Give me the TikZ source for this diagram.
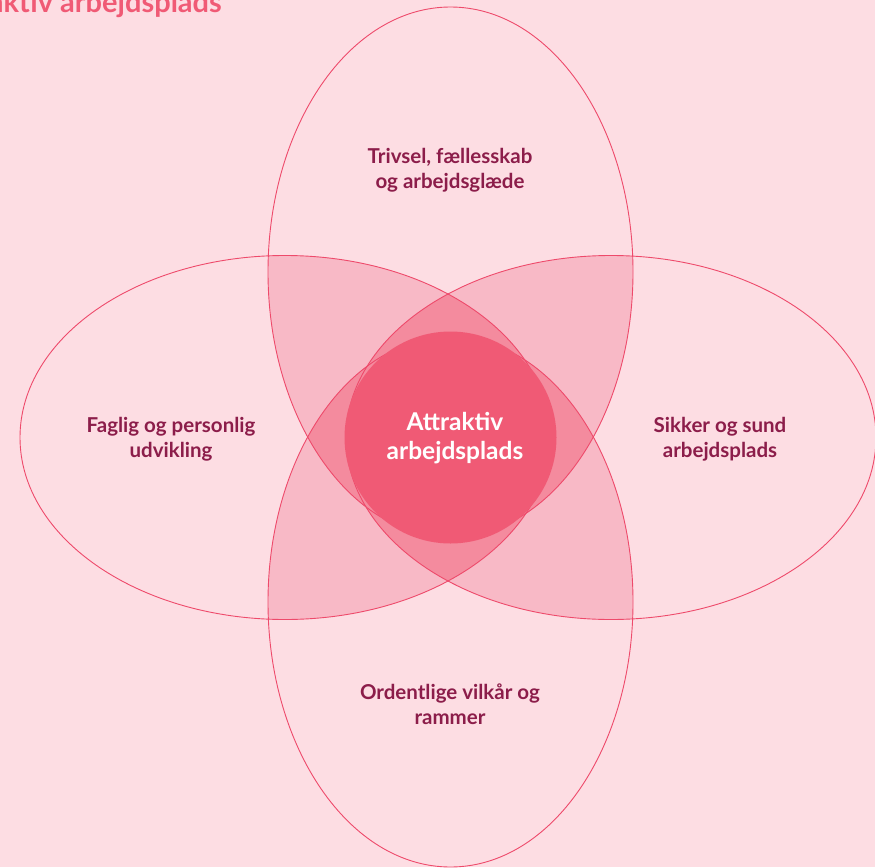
\documentclass[tikz,border=0pt]{standalone}
\usepackage{fontspec}
\setmainfont{Lato}
\definecolor{bg}{HTML}{FDDDE3}
\definecolor{ctwo}{HTML}{F8B9C6}
\definecolor{cthree}{HTML}{F48B9E}
\definecolor{ccirc}{HTML}{F05A75}
\definecolor{cline}{HTML}{EE4A6B}
\definecolor{ctext}{HTML}{8C1D4A}
\definecolor{ctitle}{HTML}{F05A75}
\tikzset{
  outline/.style={draw=cline, line width=0.9pt},
  lbl/.style={text=ctext, font=\fontsize{20.5}{25.5}\selectfont\bfseries, align=center, inner sep=0pt},
  clbl/.style={text=white, font=\fontsize{24.5}{29.5}\selectfont\bfseries, align=center, inner sep=0pt},
}
\def\ET{(450.5,272) ellipse [x radius=182.5pt, y radius=265pt]}
\def\EB{(450.5,602) ellipse [x radius=182.5pt, y radius=265pt]}
\def\EL{(285,437.5) ellipse [x radius=265pt, y radius=182pt]}
\def\ER{(611,437.5) ellipse [x radius=265pt, y radius=182pt]}
\begin{document}
\begin{tikzpicture}[x=1pt,y=-1pt]
\useasboundingbox (0,0) rectangle (875,867);
\fill[bg] (0,0) rectangle (875,867);
\begin{scope}
\clip (0,0) rectangle (875,867);
% pairwise intersections
\begin{scope}\clip \ET; \fill[ctwo] \EL; \fill[ctwo] \ER; \end{scope}
\begin{scope}\clip \EB; \fill[ctwo] \EL; \fill[ctwo] \ER; \end{scope}
\begin{scope}\clip \ET; \fill[ctwo] \EB; \end{scope}
\begin{scope}\clip \EL; \fill[ctwo] \ER; \end{scope}
% triple intersections
\begin{scope}\clip \ET; \clip \EL; \fill[cthree] \ER; \end{scope}
\begin{scope}\clip \EB; \clip \EL; \fill[cthree] \ER; \end{scope}
\begin{scope}\clip \EL; \clip \ET; \fill[cthree] \EB; \end{scope}
\begin{scope}\clip \ER; \clip \ET; \fill[cthree] \EB; \end{scope}
% outlines
\draw[outline] \ET;
\draw[outline] \EB;
\draw[outline] \EL;
\draw[outline] \ER;
% central circle
\fill[ccirc] (450.5,437.5) circle [radius=106pt];
\end{scope}
% title (cut off at the edge)
\node[anchor=base east, inner sep=0pt, text=ctitle, font=\fontsize{29}{34}\selectfont\bfseries] (title) at (222,13) {Attraktiv arbejdsplads};
% labels
\node[lbl] (top) at (450,170) {Trivsel, fællesskab\\og arbejdsglæde};
\node[lbl] (left) at (171,439) {Faglig og personlig\\udvikling};
\node[lbl] (right) at (720,439) {Sikker og sund\\arbejdsplads};
\node[lbl] (bottom) at (450,704) {Ordentlige vilkår og\\rammer};
\node[clbl] (center) at (455,438) {Attraktiv\\arbejdsplads};
\end{tikzpicture}
\end{document}
